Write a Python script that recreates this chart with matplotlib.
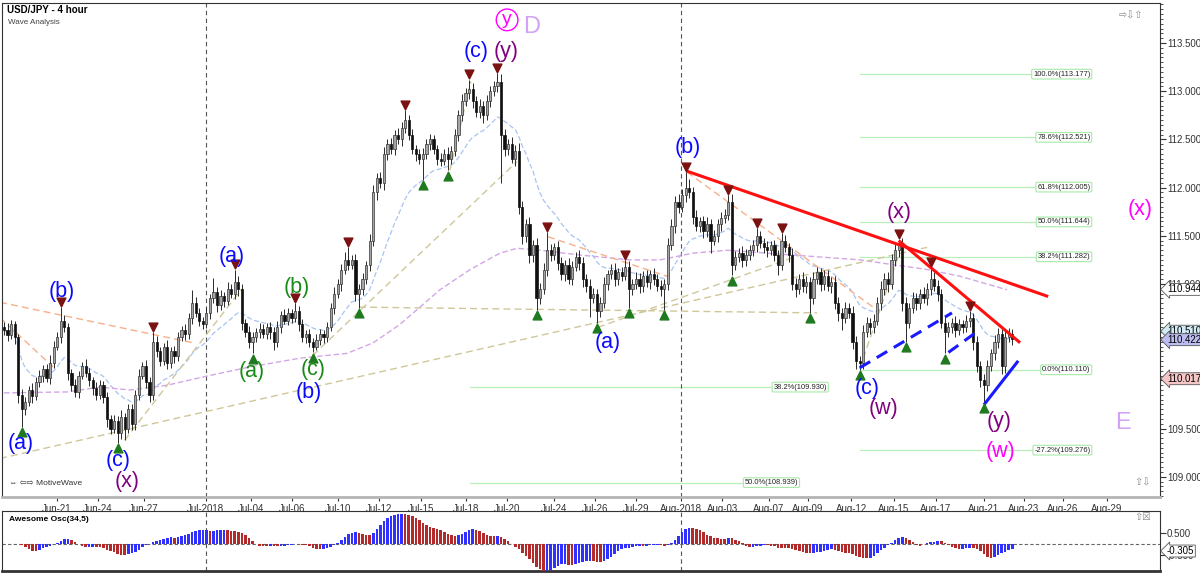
import numpy as np
import pandas as pd
import matplotlib
matplotlib.use("Agg")
import matplotlib.pyplot as plt
import matplotlib.transforms as mtransforms
from matplotlib.ticker import FormatStrFormatter

plt.rcParams['font.family'] = ['Liberation Sans', 'DejaVu Sans']

# ---- 4h USD/JPY bars ----
first_open = 110.55
closes = [
    110.52, 110.47, 110.58, 110.45, 109.85, 109.70, 109.78, 109.90, 109.84, 109.98,
    110.05, 110.12, 110.02, 110.18, 110.35, 110.45, 110.62, 110.55, 110.08, 109.95,
    109.88, 110.05, 110.15, 110.08, 110.00, 109.92, 109.85, 109.95, 109.83, 109.60,
    109.50, 109.58, 109.45, 109.62, 109.50, 109.70, 109.55, 109.85, 110.05, 110.15,
    109.98, 109.85, 110.40, 110.30, 110.20, 110.35, 110.18, 110.30, 110.25, 110.45,
    110.52, 110.48, 110.65, 110.80, 110.70, 110.62, 110.58, 110.70, 110.85, 110.92,
    110.78, 110.88, 110.82, 110.95, 110.90, 111.02, 110.95, 110.60, 110.50, 110.40,
    110.45, 110.50, 110.53, 110.48, 110.55, 110.50, 110.40, 110.55, 110.68, 110.62,
    110.70, 110.65, 110.72, 110.58, 110.45, 110.48, 110.40, 110.35, 110.42, 110.48,
    110.45, 110.55, 110.75, 110.90, 111.00, 111.15, 111.25, 111.20, 111.25, 110.90,
    110.95, 111.05, 111.20, 111.45, 111.95, 112.10, 112.05, 112.35, 112.45, 112.40,
    112.55, 112.50, 112.62, 112.70, 112.55, 112.40, 112.35, 112.30, 112.35, 112.45,
    112.50, 112.40, 112.30, 112.28, 112.35, 112.30, 112.38, 112.55, 112.75, 112.90,
    112.98, 113.02, 112.90, 112.78, 112.85, 112.75, 112.90, 113.00, 113.05, 113.10,
    112.55, 112.40, 112.45, 112.30, 112.38, 111.80, 111.50, 111.62, 111.30, 111.40,
    110.85, 110.95, 111.15, 111.35, 111.30, 111.38, 111.22, 111.10, 111.20, 111.05,
    111.18, 111.28, 111.22, 111.05, 110.98, 110.85, 110.90, 110.72, 110.80, 111.00,
    111.10, 111.15, 111.05, 111.12, 111.08, 111.18, 110.95, 111.00, 111.05, 110.98,
    111.08, 111.02, 111.10, 111.05, 110.98, 110.95, 111.00, 111.40, 111.60, 111.85,
    111.80, 111.92, 112.00, 111.95, 111.70, 111.60, 111.65, 111.55, 111.62, 111.45,
    111.50, 111.62, 111.68, 111.72, 111.85, 111.20, 111.28, 111.32, 111.25, 111.30,
    111.35, 111.40, 111.50, 111.42, 111.38, 111.35, 111.40, 111.30, 111.20, 111.45,
    111.38, 111.30, 111.00, 110.95, 111.05, 110.98, 111.02, 110.85, 111.05, 111.12,
    111.00, 111.08, 110.98, 111.02, 110.80, 110.70, 110.65, 110.75, 110.70, 110.40,
    110.20, 110.18, 110.50, 110.60, 110.55, 110.62, 110.80, 110.95, 111.05, 111.00,
    111.25, 111.35, 111.40, 110.80, 110.60, 110.75, 110.85, 110.80, 110.90, 110.85,
    110.95, 111.05, 110.98, 110.90, 110.60, 110.50, 110.55, 110.60, 110.52, 110.58,
    110.55, 110.62, 110.65, 110.40, 110.15, 110.00, 109.95, 110.15, 110.28, 110.40,
    110.48, 110.15, 110.45, 110.48, 110.43,
]
# wick lengths in pips (0.01)
wick_up = [
    6, 8, 5, 4, 3, 6, 5, 4, 7, 5,  6, 4, 5, 8, 6, 5, 14, 6, 5, 4,
    6, 5, 4, 7, 5, 4, 6, 5, 4, 5,  4, 6, 5, 7, 4, 5, 6, 5, 7, 4,
    6, 5, 10, 6, 5, 4, 7, 5, 6, 5,  4, 6, 5, 14, 6, 5, 4, 6, 5, 14,
    5, 6, 4, 7, 5, 13, 6, 5, 4, 6,  5, 4, 6, 5, 4, 6, 5, 7, 4, 6,
    5, 4, 8, 5, 6, 4, 5, 4, 6, 5,  4, 6, 5, 7, 5, 6, 8, 13, 5, 6,
    5, 6, 4, 7, 8, 5, 6, 7, 5, 6,  5, 7, 6, 10, 5, 6, 4, 5, 6, 5,
    6, 5, 4, 6, 5, 7, 5, 6, 5, 7,  5, 10, 6, 5, 7, 5, 6, 5, 6, 9,
    8, 6, 5, 7, 6, 8, 6, 5, 7, 6,  8, 6, 7, 19, 6, 5, 7, 6, 5, 7,
    6, 5, 7, 6, 5, 7, 6, 5, 6, 7,  5, 6, 7, 5, 6, 7, 6, 5, 7, 6,
    5, 6, 4, 7, 5, 6, 5, 8, 7, 6,  8, 7, 16, 9, 6, 7, 5, 6, 7, 5,
    6, 5, 7, 6, 7, 8, 6, 5, 7, 6,  5, 6, 8, 5, 6, 7, 5, 6, 5, 8,
    6, 5, 7, 6, 5, 7, 6, 5, 7, 6,  5, 6, 7, 5, 6, 7, 5, 6, 5, 7,
    6, 5, 7, 6, 5, 7, 6, 8, 6, 7,  6, 7, 6, 8, 6, 5, 7, 6, 5, 7,
    6, 12, 7, 6, 5, 7, 6, 5, 7, 6,  5, 6, 7, 5, 6, 5, 7, 6, 5, 7,
    6, 5, 7, 6, 5,
]
wick_dn = [
    5, 6, 4, 7, 8, 18, 6, 5, 7, 4,  5, 7, 4, 6, 5, 4, 6, 5, 8, 6,
    5, 6, 4, 5, 6, 7, 5, 4, 6, 8,  6, 5, 10, 6, 12, 5, 7, 6, 5, 4,
    6, 7, 5, 6, 5, 4, 6, 5, 7, 5,  4, 6, 5, 7, 4, 6, 5, 4, 6, 5,
    7, 5, 6, 4, 5, 6, 7, 8, 5, 6,  12, 5, 6, 4, 5, 7, 8, 5, 6, 4,
    5, 6, 4, 7, 5, 6, 5, 6, 4, 5,  6, 5, 4, 6, 5, 7, 5, 6, 4, 8,
    15, 6, 5, 7, 6, 8, 5, 7, 6, 5,  6, 5, 7, 5, 6, 5, 7, 6, 22, 5,
    6, 5, 7, 6, 5, 12, 6, 5, 7, 6,  5, 6, 7, 5, 6, 8, 5, 6, 5, 6,
    50, 7, 6, 5, 8, 7, 9, 6, 8, 7,  12, 6, 5, 7, 6, 5, 8, 6, 7, 5,
    6, 5, 7, 8, 6, 19, 5, 12, 6, 5,  6, 5, 7, 6, 5, 4, 20, 6, 5, 7,
    6, 5, 7, 6, 5, 7, 22, 6, 5, 7,  6, 5, 7, 6, 8, 5, 6, 7, 6, 13,
    5, 6, 7, 5, 6, 11, 6, 5, 7, 6,  5, 6, 7, 5, 6, 7, 5, 6, 11, 6,
    5, 7, 6, 8, 5, 6, 7, 15, 6, 5,  7, 6, 5, 7, 6, 8, 13, 6, 5, 7,
    8, 7, 6, 5, 7, 6, 5, 7, 6, 8,  5, 6, 7, 8, 20, 6, 5, 7, 6, 5,
    7, 6, 5, 8, 6, 22, 5, 6, 7, 5,  6, 5, 7, 8, 6, 7, 18, 6, 5, 7,
    6, 8, 7, 5, 6,
]

tick_bars = [14.9, 26.5, 39.3, 56.8, 69.6, 81.1, 94.1, 105.6, 117.5, 130.1, 141.7, 154.9,
             166.5, 177.9, 190.7, 202.3, 215.5, 226.5, 238.6, 250.7, 262.5, 275.9, 287.3,
             298.3, 310.7]
tick_labels = ['Jun-21', 'Jun-24', 'Jun-27', 'Jul-2018', 'Jul-04', 'Jul-06', 'Jul-10', 'Jul-12',
               'Jul-15', 'Jul-18', 'Jul-20', 'Jul-24', 'Jul-26', 'Jul-29', 'Aug-2018', 'Aug-03',
               'Aug-07', 'Aug-09', 'Aug-12', 'Aug-15', 'Aug-17', 'Aug-21', 'Aug-23', 'Aug-26',
               'Aug-29']
month_bars = [56.8, 190.7]

# slow moving average (purple)
slow_ma_bars = [0, 17.7, 27, 35.5, 46, 56.6, 69.3, 83.4, 96.6, 104, 111.5, 122.8, 131.3, 139.7,
                144.5, 151, 162.3, 176.3, 184.8, 194, 203.7, 222.3, 241.1, 250.4, 260, 269.3, 282.5]
slow_ma_vals = [109.87, 109.88, 109.93, 109.90, 109.95, 110.04, 110.14, 110.23, 110.28, 110.39,
                110.58, 110.94, 111.15, 111.32, 111.37, 111.35, 111.30, 111.25, 111.25, 111.32,
                111.35, 111.30, 111.25, 111.20, 111.15, 111.08, 110.94]

high_pivots = [16, 42, 65, 82, 97, 113, 131, 139, 153, 175, 192, 204, 212, 219, 252, 261, 272]
low_pivots = [5, 32, 70, 87, 100, 118, 125, 150, 167, 176, 186, 205, 227, 241, 254, 265, 276]

# trend lines: (bar0, price0, bar1, price1)
red_lines = [(192.4, 112.17, 294.1, 110.87), (252, 111.45, 286.2, 110.39)]
blue_dashed = [(241, 110.13, 267, 110.70), (266, 110.29, 273.5, 110.49)]
blue_solid = [(276.3, 109.76, 285.4, 110.19)]
orange_lines = [(-1.1, 110.81, 53.2, 110.39), (-1.1, 110.65, 13.8, 110.14),
                (153.2, 111.49, 187.6, 111.07), (192.4, 112.16, 244.8, 110.76)]
tan_lines = [(-1.1, 109.19, 260, 111.38), (34, 109.38, 67, 110.95), (87, 110.26, 144.5, 112.27),
             (100, 110.76, 229, 110.70), (167.3, 110.55, 224.2, 111.30), (241, 110.12, 252, 111.30),
             (125.6, 112.18, 131.5, 113.10)]

# fibonacci levels
fib_right_pct = ['100.0%', '78.6%', '61.8%', '50.0%', '38.2%', '0.0%', '-27.2%']
fib_right_val = [113.177, 112.521, 112.005, 111.644, 111.282, 110.110, 109.276]
fib_left_pct = ['38.2%', '50.0%']
fib_left_val = [109.930, 108.939]
fib_left_end = [231.8, 223.7]

# wave labels: text, bar, price, colour
BLUE, GREEN, PURPLE, MAG = '#0a0aff', '#168a16', '#800080', '#ff00ff'
wave_labels = [
    ('(a)', 4.8, 109.35, BLUE), ('(b)', 16.3, 110.92, BLUE), ('(c)', 32.1, 109.17, BLUE),
    ('(x)', 34.6, 108.95, PURPLE), ('(a)', 64.2, 111.28, BLUE), ('(a)', 69.9, 110.09, GREEN),
    ('(b)', 82.5, 110.96, GREEN), ('(c)', 87.0, 110.11, GREEN), ('(b)', 85.9, 109.87, BLUE),
    ('(c)', 133.0, 113.41, BLUE), ('(y)', 141.4, 113.41, PURPLE), ('(a)', 170.1, 110.39, BLUE),
    ('(b)', 192.7, 112.42, BLUE), ('(x)', 252.1, 111.74, PURPLE), ('(c)', 243.1, 109.92, BLUE),
    ('(w)', 247.6, 109.71, PURPLE), ('(y)', 280.3, 109.57, PURPLE), ('(w)', 280.6, 109.26, MAG),
    ('(x)', 320.0, 111.77, MAG),
]

price_tags = [110.944, 110.510, 110.422, 110.017]
price_tag_colors = ['white', '#d2ebf5', '#bcbcf2', '#f5c6c6']
ao_tag = -0.305

# ---- derived series ----
n = len(closes)
idx = np.arange(n)
close = np.array(closes)
opn = np.concatenate([[first_open], close[:-1]])
high = np.maximum(opn, close) + np.array(wick_up) / 100
low = np.minimum(opn, close) - np.array(wick_dn) / 100

fast_ma = pd.Series(close).ewm(span=20).mean()
median = pd.Series((high + low) / 2)
ao = (median.rolling(5, min_periods=1).mean() - median.rolling(34, min_periods=1).mean()).values

fig = plt.figure(figsize=(12, 5.75), dpi=100)
ax = fig.add_axes([2 / 1200, 1 - 497 / 575, 1158 / 1200, 494 / 575])
ax2 = fig.add_axes([2 / 1200, 1 - 571 / 575, 1158 / 1200, 60 / 575])
xlim = (-0.56, 325.6)

# candles
up = close >= opn
body = np.maximum(np.abs(close - opn), 0.012)
ax.vlines(idx, low, high, color='#2a2a2a', lw=0.7, zorder=3)
ax.bar(idx[up], body[up], bottom=opn[up], width=0.62, color='#a6a6a6', edgecolor='#333333', lw=0.5, zorder=4)
ax.bar(idx[~up], body[~up], bottom=close[~up], width=0.62, color='#101010', edgecolor='#101010', lw=0.5, zorder=4)

ax.plot(idx, fast_ma, color='#a8c4f2', lw=0.9, ls=(0, (4, 2)), zorder=2)
ax.plot(slow_ma_bars, slow_ma_vals, color='#d4a6e6', lw=1.0, ls=(0, (4, 2)), zorder=2)

for x0, y0, x1, y1 in tan_lines:
    ax.plot([x0, x1], [y0, y1], color='#cfc79a', lw=1.0, ls=(0, (5, 3)), zorder=2)
for x0, y0, x1, y1 in orange_lines:
    ax.plot([x0, x1], [y0, y1], color='#f7b08a', lw=1.0, ls=(0, (5, 3)), zorder=2)

# fib levels
for pct, val in zip(fib_right_pct, fib_right_val):
    ax.plot([241, 306], [val, val], color='#b8f0b8', lw=0.9, zorder=1)
    ax.text(306, val, f'{pct}({val:.3f})', fontsize=5.4, ha='right', va='center', color='#222222',
            bbox=dict(boxstyle='round,pad=0.18', fc='white', ec='#a8eaa8', lw=0.8), zorder=5)
for pct, val, end in zip(fib_left_pct, fib_left_val, fib_left_end):
    ax.plot([131.3, end], [val, val], color='#b8f0b8', lw=0.9, zorder=1)
    ax.text(end, val, f'{pct}({val:.3f})', fontsize=5.4, ha='right', va='center', color='#222222',
            bbox=dict(boxstyle='round,pad=0.18', fc='white', ec='#a8eaa8', lw=0.8), zorder=5)

for x0, y0, x1, y1 in red_lines:
    ax.plot([x0, x1], [y0, y1], color='#ff1010', lw=2.2, zorder=6, solid_capstyle='butt')
for x0, y0, x1, y1 in blue_dashed:
    ax.plot([x0, x1], [y0, y1], color='#1a1aff', lw=2.2, ls=(0, (4, 2.5)), zorder=6)
for x0, y0, x1, y1 in blue_solid:
    ax.plot([x0, x1], [y0, y1], color='#1a1aff', lw=2.2, zorder=6)

# pivot markers
ax.scatter(high_pivots, high[high_pivots] + 0.055, marker='v', s=40, color='#7b1212', zorder=7)
ax.scatter(low_pivots, low[low_pivots] - 0.055, marker='^', s=40, color='#1f7a1f', zorder=7)

for txt, bx, py, col in wave_labels:
    ax.text(bx, py, txt, color=col, fontsize=15.5, ha='center', va='center', zorder=8)
ax.text(141.7, 113.74, 'y', color=MAG, fontsize=14, ha='center', va='center',
        bbox=dict(boxstyle='circle,pad=0.12', fc='none', ec=MAG, lw=1.0))
ax.text(148.5, 113.67, 'D', color='#d3a2f5', fontsize=17, ha='center', va='center')
ax.text(315.2, 109.56, 'E', color='#d3a2f5', fontsize=17, ha='center', va='center')

for xb in month_bars:
    for a in (ax, ax2):
        a.axvline(xb, color='#555555', lw=0.8, ls=(0, (4, 3)), zorder=1)

ax.set_xlim(*xlim)
ax.set_ylim(108.79, 113.915)
ax.yaxis.tick_right()
ax.set_yticks(np.arange(109.0, 113.51, 0.5))
ax.set_yticks(np.arange(108.8, 113.9, 0.05), minor=True)
ax.yaxis.set_major_formatter(FormatStrFormatter('%.3f'))
ax.tick_params(axis='y', which='major', length=4, labelsize=7, pad=1, colors='#333333')
ax.tick_params(axis='y', which='minor', length=2, colors='#333333')
ax.set_xticks(tick_bars)
ax.set_xticklabels(tick_labels, fontsize=7)
ax.tick_params(axis='x', length=3, pad=2, colors='#333333')
for side in ('left', 'top', 'right'):
    ax.spines[side].set_color('#333333')
ax.spines['bottom'].set_color('#b4b4b4')
ax.spines['bottom'].set_linewidth(2)

blend = mtransforms.blended_transform_factory(ax.transAxes, ax.transData)
for val, col in zip(price_tags, price_tag_colors):
    ax.text(1.006, val, f'{val:.3f}', transform=blend, fontsize=7, va='center', ha='left',
            bbox=dict(boxstyle='larrow,pad=0.1', fc=col, ec='#555555', lw=0.6), zorder=9)

fig.text(7 / 1200, 1 - 10 / 575, 'USD/JPY - 4 hour', fontsize=7, fontweight='bold', va='center')
fig.text(8 / 1200, 1 - 23 / 575, 'Wave Analysis', fontsize=5.8, color='#444444', va='center')
ax.text(0.006, 0.02, '\u21d4 \u21e6\u21e8 MotiveWave', transform=ax.transAxes, fontsize=6,
        color='#333333', va='bottom')
ax.text(0.975, 0.985, '\u21e8\u21e9\u21e7', transform=ax.transAxes, fontsize=7, color='#888888',
        va='top', ha='center')
ax.text(0.985, 0.02, '\u21e7\u21e9', transform=ax.transAxes, fontsize=7, color='#888888',
        va='bottom', ha='center')

# awesome oscillator
ao_col = ['#3030ff' if i > 0 and ao[i] > ao[i - 1] else '#b22a2a' for i in range(n)]
ao_col[0] = '#b22a2a'
ax2.bar(idx, ao, width=0.72, color=ao_col, zorder=3)
ax2.axhline(0, color='#666666', lw=0.8, ls=(0, (3, 2)), zorder=2)
ax2.set_xlim(*xlim)
ax2.set_ylim(-1.174, 1.435)
ax2.yaxis.tick_right()
ax2.set_yticks([-0.5, 0.5])
ax2.yaxis.set_major_formatter(FormatStrFormatter('%.3f'))
ax2.tick_params(axis='y', length=4, labelsize=7, pad=1, colors='#333333')
ax2.set_xticks([])
for side in ('left', 'top', 'right', 'bottom'):
    ax2.spines[side].set_color('#333333')
ax2.spines['bottom'].set_linewidth(2)
ax2.text(0.006, 0.86, 'Awesome Osc(34,5)', transform=ax2.transAxes, fontsize=6, fontweight='bold',
         va='center')
ax2.text(0.985, 0.9, '\u21e7\u2612', transform=ax2.transAxes, fontsize=7, color='#888888',
         va='center', ha='center')
blend2 = mtransforms.blended_transform_factory(ax2.transAxes, ax2.transData)
ax2.text(1.006, ao_tag, f'{ao_tag:.3f}', transform=blend2, fontsize=7, va='center', ha='left',
         bbox=dict(boxstyle='larrow,pad=0.1', fc='white', ec='#555555', lw=0.6), zorder=9)

fig.savefig('out.png', dpi=100)
